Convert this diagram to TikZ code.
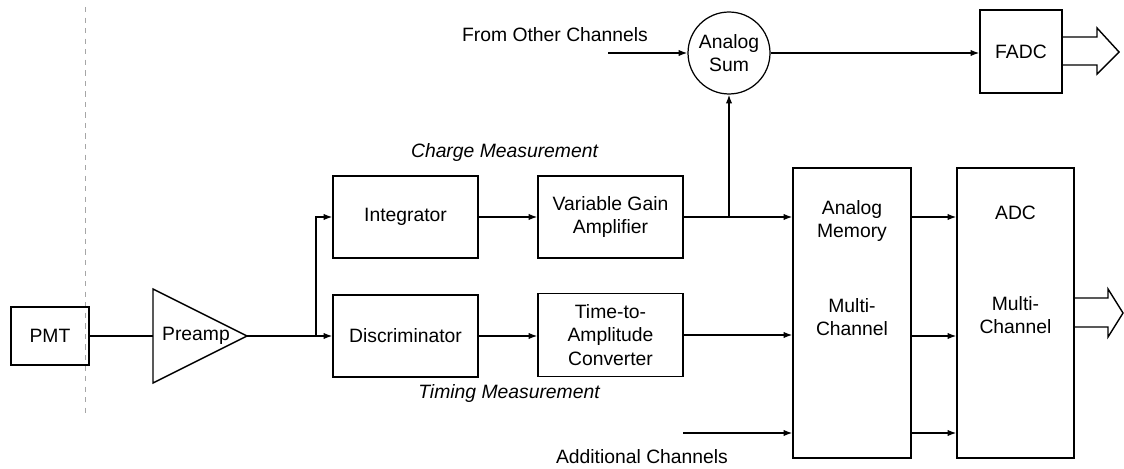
\documentclass[tikz,border=0pt]{standalone}
\usepackage{fontspec}
\setmainfont{Liberation Sans}
\usetikzlibrary{arrows.meta}
\begin{document}
\begin{tikzpicture}[x=0.02cm,y=-0.02cm,
  txt/.style={font=\fontsize{11}{13.5}\selectfont},
  blk/.style={draw, line width=0.7pt, inner sep=0pt, align=center, txt},
  lbl/.style={inner sep=0pt, align=center, txt},
  conn/.style={line width=0.8pt},
  arr/.style={conn, -{Latex[length=5pt,width=3.6pt]}},
  hollow/.style={line width=0.8pt, line join=miter},
  guide/.style={gray!70, dashed, line width=0.5pt}
  ]
\useasboundingbox (0,0) rectangle (1124,469);

% faint vertical guide
\draw[guide] (85,7) -- (85,418);

% blocks
\node[blk, minimum width=1.56cm, minimum height=1.16cm] (pmt) at (50,336) {PMT};
\draw[line width=0.8pt, line join=miter] (153,289) -- (247,336) -- (153,383) -- cycle;
\coordinate (pin) at (153,336);
\coordinate (pout) at (247,336);
\node[lbl] (preamp) at (196,336) {Preamp};

\node[blk, minimum width=2.9cm, minimum height=1.64cm] (integ) at (405.5,217) {Integrator};
\node[blk, minimum width=2.9cm, minimum height=1.64cm] (disc) at (405.5,336) {Discriminator};
\node[blk, minimum width=2.9cm, minimum height=1.64cm] (vga) at (610.5,217) {Variable Gain\\Amplifier};
\node[blk, minimum width=2.9cm, minimum height=1.66cm] (tac) at (610.5,335) {Time-to-\\Amplitude\\Converter};

\node[blk, minimum width=2.36cm, minimum height=5.8cm] (am) at (852,313) {};
\node[lbl] (amt1) at (852,221) {Analog\\Memory};
\node[lbl] (amt2) at (852,317) {Multi-\\Channel};

\node[blk, minimum width=2.34cm, minimum height=5.8cm] (adc) at (1015.5,313) {};
\node[lbl] (adct1) at (1015.5,213) {ADC};
\node[lbl] (adct2) at (1015.5,315) {Multi-\\Channel};

\node[blk, circle, minimum size=1.64cm] (sum) at (729,53) {Analog\\Sum};
\node[blk, minimum width=1.64cm, minimum height=1.66cm] (fadc) at (1021,51.5) {FADC};

% labels
\node[lbl] (foc) at (555,35) {From Other Channels};
\node[lbl, font=\fontsize{11}{13.5}\selectfont\itshape] (charge) at (504.5,153) {Charge Measurement};
\node[lbl, font=\fontsize{11}{13.5}\selectfont\itshape] (timing) at (509,393) {Timing Measurement};
\node[lbl] (addl) at (642,457) {Additional Channels};

% connectors
\draw[conn] (pmt.east) -- (pin);
\coordinate (split1) at (316,336);
\draw[arr] (pout) -- (disc.west);
\draw[arr] (split1) |- (integ.west);
\draw[arr] (integ.east) -- (vga.west);
\draw[arr] (disc.east) -- (disc.east -| tac.west);
\draw[arr] (vga.east) -- (vga.east -| am.west);
\coordinate (split2) at (729,217);
\draw[arr] (split2) -- (sum.south);
\coordinate (focin) at (608,53);
\draw[arr] (focin) -- (sum.west);
\draw[arr] (sum.east) -- (sum.east -| fadc.west);
\draw[arr] (tac.east) -- (tac.east -| am.west);
\coordinate (addin) at (683,433);
\draw[arr] (addin) -- (addin -| am.west);

\coordinate (m1) at (911,217);
\coordinate (m2) at (911,336);
\coordinate (m3) at (911,433);
\draw[arr] (m1) -- (m1 -| adc.west);
\draw[arr] (m2) -- (m2 -| adc.west);
\draw[arr] (m3) -- (m3 -| adc.west);

% hollow output arrows
\draw[hollow] (fadc.east |- 0,37) -- (1097,37) -- (1097,28) -- (1119,52) -- (1097,74) -- (1097,65) -- (fadc.east |- 0,65);
\draw[hollow] (adc.east |- 0,298) -- (1108,298) -- (1108,289) -- (1123,313) -- (1108,337) -- (1108,327) -- (adc.east |- 0,327);
\end{tikzpicture}
\end{document}
